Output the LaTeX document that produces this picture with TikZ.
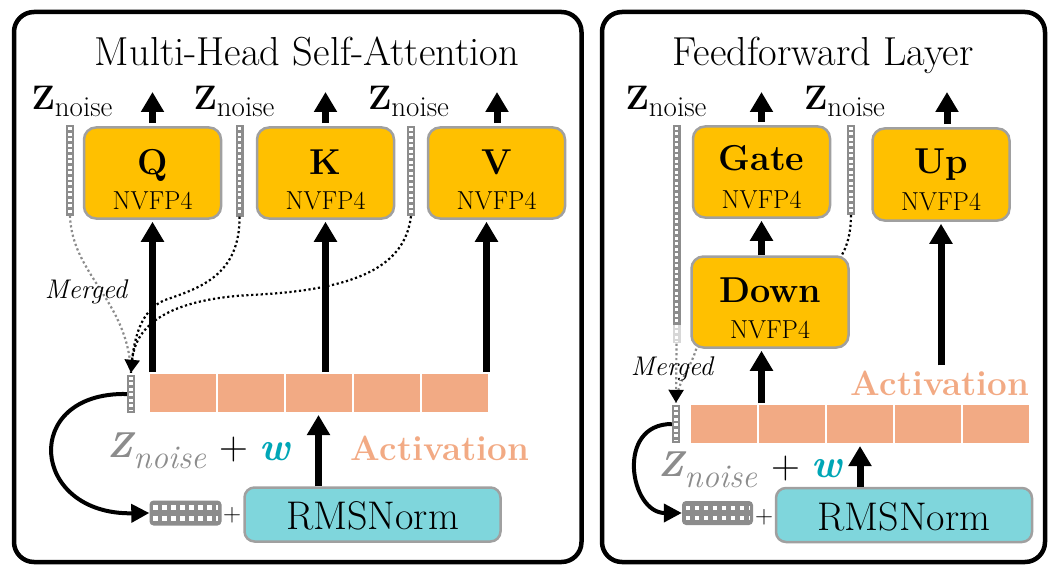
\documentclass[tikz,border=0pt]{standalone}
\usepackage{fontspec}
\usetikzlibrary{arrows.meta,positioning}

\definecolor{wgold}{HTML}{FFC000}
\definecolor{wframe}{HTML}{A0A0A0}
\definecolor{actsalmon}{HTML}{F2AA84}
\definecolor{normcyan}{HTML}{7FD6DC}
\definecolor{noisegray}{HTML}{8C8C8C}
\definecolor{wteal}{HTML}{00A6B6}

% noise labels
\newcommand{\znoisetop}{{\fontsize{34}{34}\selectfont\bfseries Z}{\fontsize{29}{29}\selectfont\raisebox{-7pt}{noise}}}
\newcommand{\znoisesum}{{\fontsize{36}{36}\selectfont\bfseries\itshape Z}{\fontsize{33}{33}\selectfont\itshape\raisebox{-11pt}{noise}}}

\tikzset{
  panel/.style={draw, line width=4.5pt, rounded corners=20pt},
  title/.style={anchor=base, inner sep=0pt, font=\fontsize{40.5}{40.5}\selectfont},
  wbox/.style={draw=wframe, line width=2.5pt, fill=wgold, rounded corners=12pt,
    minimum width=137pt, minimum height=91pt, inner sep=0pt},
  normbox/.style={draw=wframe, line width=2.5pt, fill=normcyan, rounded corners=10pt,
    minimum width=256pt, minimum height=54pt, inner sep=0pt},
  cell/.style={draw=white, line width=2pt, fill=actsalmon, minimum width=68pt,
    minimum height=40pt, inner sep=0pt},
  vstrip/.style={fill=noisegray, minimum width=8pt, inner sep=0pt},
  hblock/.style={fill=noisegray, rounded corners=4pt, minimum width=72pt,
    minimum height=25pt, inner sep=0pt},
  holes/.style={draw=white, line width=3.5pt, dash pattern=on 3pt off 2.5pt},
  blockholes/.style={draw=white, line width=4.5pt, dash pattern=on 4.5pt off 4.5pt},
  wname/.style={anchor=base, inner sep=0pt, font=\fontsize{36}{36}\selectfont\bfseries},
  wfmt/.style={anchor=base, inner sep=0pt, font=\fontsize{26}{26}\selectfont},
  actlabel/.style={anchor=base, inner sep=0pt, text=actsalmon,
    font=\fontsize{35}{35}\selectfont\bfseries},
  wlabel/.style={anchor=base, inner sep=0pt, text=wteal,
    font=\fontsize{40}{40}\selectfont\bfseries\itshape},
  mergelabel/.style={anchor=base, inner sep=0pt, font=\fontsize{27}{27}\selectfont\itshape},
  flow/.style={line width=7pt, -{Triangle[width=22pt,length=20pt]}},
  loopback/.style={line width=4pt, -{Triangle[width=18pt,length=18pt]}},
  mergeline/.style={line width=2.2pt, dash pattern=on 2.2pt off 2.6pt},
  mergetip/.style={-{Triangle[width=15pt,length=13pt,color=black]}},
}

\begin{document}
\begin{tikzpicture}[x=1pt,y=-1pt]
  \useasboundingbox (0,0) rectangle (1058,575);
  % panels
  \draw[panel] (14,12) rectangle (581.5,562);
  \draw[panel] (602,12) rectangle (1045,562);
  \node[title] (mhsa) at (307,66) {Multi-Head Self-Attention};
  \node[title] (ffn) at (823,66) {Feedforward Layer};

  % ---------- attention ----------
  \node[wbox] (q) at (152.5,173) {};
  \node[wbox] (k) at (325.5,173) {};
  \node[wbox] (v) at (496.5,173) {};
  \node[wname] (qname) at ([yshift=-2pt]q.center) {Q};
  \node[wname] (kname) at ([yshift=-2pt]k.center) {K};
  \node[wname] (vname) at ([yshift=-2pt]v.center) {V};
  \node[wfmt] (qfmt) at ([yshift=-36pt]q.center) {NVFP4};
  \node[wfmt] (kfmt) at ([yshift=-36pt]k.center) {NVFP4};
  \node[wfmt] (vfmt) at ([yshift=-36pt]v.center) {NVFP4};
  % noise strips
  \node[vstrip, minimum height=90pt] (zq) at (70,170.5) {};
  \node[vstrip, minimum height=91pt] (zk) at (239.5,171) {};
  \node[vstrip, minimum height=90pt] (zv) at (411,171) {};
  \node[vstrip, minimum height=38pt] (zm) at (131,394) {};
  \node[anchor=base, inner sep=0pt] (zqlab) at (72,110) {\znoisetop};
  \node[anchor=base, inner sep=0pt] (zklab) at (234,110) {\znoisetop};
  \node[anchor=base, inner sep=0pt] (zvlab) at (408.5,110) {\znoisetop};
  % activation
  \node[cell] (a1) at (182.5,393) {};
  \node[cell] (a2) at (250.5,393) {};
  \node[cell] (a3) at (318.5,393) {};
  \node[cell] (a4) at (386.5,393) {};
  \node[cell] (a5) at (454.5,393) {};
  \node[actlabel] (actL) at (440,460) {Activation};
  \node[anchor=base, inner sep=0pt, text=noisegray] (zsumL) at (157,457) {\znoisesum};
  \node[inner sep=0pt, font=\fontsize{40}{40}\selectfont] (plusL) at (234,450) {+};
  \node[wlabel] (wL) at (275,460) {w};
  % norm
  \node[hblock] (nb) at (185.5,513) {};
  \node[inner sep=0pt, font=\fontsize{25}{25}\selectfont] (addL) at (232,515) {+};
  \node[normbox] (norm) at (372.5,514.5) {};
  \node[anchor=base, inner sep=0pt, font=\fontsize{40}{40}\selectfont] (normtxt)
    at ([yshift=-15pt]norm.center) {RMSNorm};

  % ---------- feedforward ----------
  \node[wbox] (gate) at (761.5,172) {};
  \node[wbox, minimum width=157pt] (down) at (770,302) {};
  \node[wbox, minimum height=92pt] (up) at (941,174.5) {};
  \node[wname] (gname) at ([yshift=1pt]gate.center) {Gate};
  \node[wname] (dname) at ([yshift=0pt]down.center) {Down};
  \node[wname] (uname) at ([yshift=1pt]up.center) {Up};
  \node[wfmt] (gfmt) at ([yshift=-36pt]gate.center) {NVFP4};
  \node[wfmt] (dfmt) at ([yshift=-36pt]down.center) {NVFP4};
  \node[wfmt] (ufmt) at ([yshift=-36pt]up.center) {NVFP4};
  % noise strips
  \node[vstrip, minimum height=200pt] (zg) at (676.5,225) {};
  \node[vstrip, fill=noisegray!35, minimum height=18pt, below=0pt of zg] (zgend) {};
  \node[vstrip, minimum height=90pt] (zu) at (851,170) {};
  \node[vstrip, minimum height=38pt] (zm2) at (676,424) {};
  \node[anchor=base, inner sep=0pt] (zglab) at (666,110) {\znoisetop};
  \node[anchor=base, inner sep=0pt] (zulab) at (844.5,110) {\znoisetop};
  % activation
  \node[cell] (r1) at (724,424) {};
  \node[cell] (r2) at (792,424) {};
  \node[cell] (r3) at (860,424) {};
  \node[cell] (r4) at (928,424) {};
  \node[cell] (r5) at (996,424) {};
  \node[actlabel] (actR) at (940,395) {Activation};
  \node[anchor=base, inner sep=0pt, text=noisegray] (zsumR) at (708,476) {\znoisesum};
  \node[inner sep=0pt, font=\fontsize{40}{40}\selectfont] (plusR) at (786,469) {+};
  \node[wlabel] (wR) at (827,477) {w};
  % norm
  \node[hblock, minimum width=71pt, minimum height=24pt] (nb2) at (717.5,513) {};
  \node[inner sep=0pt, font=\fontsize{25}{25}\selectfont] (addR) at (764,517) {+};
  \node[normbox] (norm2) at (904,515) {};
  \node[anchor=base, inner sep=0pt, font=\fontsize{40}{40}\selectfont] (normtxt2)
    at ([yshift=-15pt]norm2.center) {RMSNorm};

  % holes in the noise strips
  \draw[holes] ([yshift=-2pt]zq.north) -- ([yshift=2pt]zq.south);
  \draw[holes] ([yshift=-2pt]zk.north) -- ([yshift=2pt]zk.south);
  \draw[holes] ([yshift=-2pt]zv.north) -- ([yshift=2pt]zv.south);
  \draw[holes] ([yshift=-2pt]zm.north) -- ([yshift=2pt]zm.south);
  \draw[holes] ([yshift=-2pt]zg.north) -- ([yshift=2pt]zgend.south);
  \draw[holes] ([yshift=-2pt]zu.north) -- ([yshift=2pt]zu.south);
  \draw[holes] ([yshift=-2pt]zm2.north) -- ([yshift=2pt]zm2.south);
  \draw[blockholes] ([xshift=4pt,yshift=5.5pt]nb.west) -- ([xshift=-4pt,yshift=5.5pt]nb.east);
  \draw[blockholes] ([xshift=4pt,yshift=-5.5pt]nb.west) -- ([xshift=-4pt,yshift=-5.5pt]nb.east);
  \draw[blockholes] ([xshift=4pt,yshift=5pt]nb2.west) -- ([xshift=-4pt,yshift=5pt]nb2.east);
  \draw[blockholes] ([xshift=4pt,yshift=-5pt]nb2.west) -- ([xshift=-4pt,yshift=-5pt]nb2.east);

  % outputs
  \coordinate (qout) at (152.5,92);
  \coordinate (kout) at (325.5,92);
  \coordinate (vout) at (497,92);
  \coordinate (gout) at (761.5,92);
  \coordinate (uout) at (947,92);
  \draw[flow] (qout |- q.north) ++(0,-3) -- (qout);
  \draw[flow] (kout |- k.north) ++(0,-3) -- (kout);
  \draw[flow] (vout |- v.north) ++(0,-3) -- (vout);
  \draw[flow] (gout |- gate.north) ++(0,-3) -- (gout);
  \draw[flow] (uout |- up.north) ++(0,-3) -- (uout);

  % attention inputs
  \coordinate (vin) at ([xshift=-10pt]v.south);
  \draw[flow, shorten >=2pt] (q.south |- a1.north) -- (q.south);
  \draw[flow, shorten >=2pt] (k.south |- a3.north) -- (k.south);
  \draw[flow, shorten >=2pt] (vin |- a5.north) -- (vin);
  \draw[flow, shorten >=1pt] (a3.south |- norm.north) -- (a3.south);

  % merged noise (attention)
  \draw[mergeline, draw=noisegray] (zq.south) .. controls (72,275) and (128,300) .. ([yshift=2pt]zm.north);
  \draw[mergeline] (zk.south) .. controls (240,275) and (200,288) .. (165,300)
    .. controls (140,310) and (133,340) .. ([yshift=2pt]zm.north);
  \draw[mergeline, mergetip] (zv.south) .. controls (405,265) and (360,290) .. (250,295)
    .. controls (160,300) and (135,330) .. ([yshift=2pt]zm.north);
  \node[mergelabel] (mrgL) at (86,298) {Merged};
  \draw[loopback] (zm.west) .. controls (20,392) and (30,515) .. (nb.west);

  % feedforward inputs
  \draw[flow, shorten >=2pt] (gate.south |- down.north) -- (gate.south);
  \draw[flow, shorten >=2pt] (gate.south |- r2.north) -- (down.south -| gate.south);
  \draw[flow, shorten <=5pt, shorten >=2pt] (up.south |- actR.north) -- (up.south);
  \draw[flow, shorten >=1pt] (r3.south |- norm2.north) -- (r3.south);

  % merged noise (feedforward)
  \draw[mergeline] (zu.south) .. controls (851,235) and (846,248) .. ([xshift=-8pt]down.north east);
  \draw[mergeline, draw=noisegray] ([xshift=6pt]down.south west) .. controls (690,370) and (678,380) .. ([yshift=2pt]zm2.north);
  \draw[mergeline, draw=noisegray, mergetip] (zgend.south) -- ([yshift=2pt]zm2.north);
  \node[mergelabel] (mrgR) at (672,375) {Merged};
  \draw[loopback] (zm2.west) .. controls (615,424) and (630,513) .. (nb2.west);
\end{tikzpicture}
\end{document}
